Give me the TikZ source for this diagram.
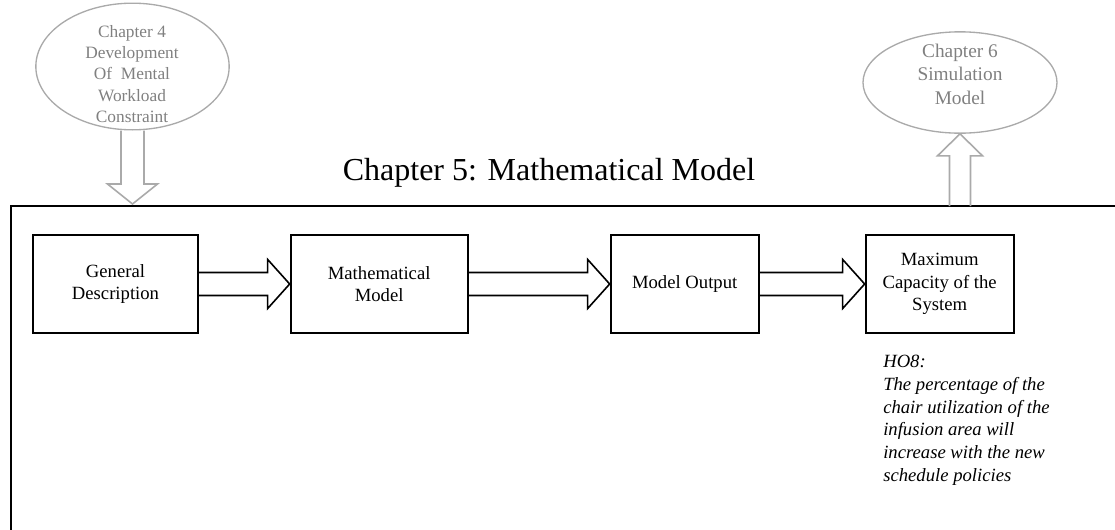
\documentclass[tikz,border=0pt]{standalone}
\usepackage{fontspec}
\setmainfont{Liberation Serif}
\usetikzlibrary{shapes.geometric, calc, positioning}

\definecolor{chapline}{RGB}{170,170,170}
\definecolor{chapink}{RGB}{128,128,128}

% hollow block arrow from box #2 to box #3 (left to right)
\newcommand{\fatarrow}[3]{%
  \draw[#1] ($(#2.east |- #3.west)+(0,-11.5)$) -- ($(#3.west)+(-22,-11.5)$)
    -- ($(#3.west)+(-22,-24.5)$) -- (#3.west) -- ($(#3.west)+(-22,24.5)$)
    -- ($(#3.west)+(-22,11.5)$) -- ($(#2.east |- #3.west)+(0,11.5)$);}

\begin{document}
\begin{tikzpicture}[
    x=0.75pt, y=-0.75pt,
    stage/.style={
        rectangle, draw=black, line width=1.5pt,
        minimum height=73.5pt, inner sep=2pt, align=center,
        font=\fontsize{14pt}{17pt}\selectfont
    },
    bubble/.style={ellipse, draw=chapline, line width=1pt},
    bubbletext/.style={text=chapink, align=center, inner sep=0pt},
    blockarrow/.style={draw=black, line width=1.2pt, line join=miter},
    grayarrow/.style={draw=chapline, line width=1.2pt, line join=miter}
]
  \useasboundingbox (0,0) rectangle (1115,529);
  \clip (0,0) rectangle (1115,529);

  % Chapter 5 frame (runs off the page)
  \draw[line width=1.2pt] (11,560) -- (11,206) -- (1130,206);
  \coordinate (frametop) at (0,206);
  \node[anchor=base, font=\fontsize{24pt}{28pt}\selectfont] (title) at (549,180)
    {Chapter 5: Mathematical Model};

  % Neighbouring chapters
  \node[bubble, minimum width=145pt, minimum height=95pt] (ch4) at (132.5,66.5) {};
  \node[bubbletext, font=\fontsize{13pt}{16pt}\selectfont] (ch4text) at (132,74)
    {Chapter 4\\Development\\Of~ Mental\\Workload\\Constraint};
  \node[bubble, minimum width=145.5pt, minimum height=76pt] (ch6) at (960,82.5) {};
  \node[bubbletext, font=\fontsize{14.5pt}{17.6pt}\selectfont] (ch6text) at (960,74)
    {Chapter 6\\Simulation\\Model};

  % Model steps
  \node[stage, minimum width=123.75pt] (gen) at (115.5,284) {General\\Description};
  \node[stage, minimum width=132.75pt, right=68pt of gen] (mat) {Mathematical\\Model};
  \node[stage, minimum width=111pt, right=105.75pt of mat] (out) {Model Output};
  \node[stage, minimum width=111pt, right=78.75pt of out] (cap) {Maximum\\Capacity of the\\System};

  \node[anchor=north west, inner sep=0pt, align=left,
        font=\fontsize{14pt}{17pt}\selectfont\itshape] (ho8) at (883,355)
    {HO8:\\The percentage of the\\chair utilization of the\\infusion area will\\increase with the new\\schedule policies};

  % Block arrows between steps
  \fatarrow{blockarrow}{gen}{mat}
  \fatarrow{blockarrow}{mat}{out}
  \fatarrow{blockarrow}{out}{cap}

  % In from chapter 4, out to chapter 6
  \draw[grayarrow] ($(ch4.south)+(-11.5,0)$) -- ($(ch4.south |- frametop)+(-11.5,-22)$)
    -- ($(ch4.south |- frametop)+(-25,-22)$) -- ($(ch4.south |- frametop)+(0,-2)$)
    -- ($(ch4.south |- frametop)+(25,-22)$) -- ($(ch4.south |- frametop)+(11.5,-22)$)
    -- ($(ch4.south)+(11.5,0)$);
  \draw[grayarrow] ($(ch6.south |- frametop)+(-10.5,0)$) -- ($(ch6.south)+(-10.5,22)$)
    -- ($(ch6.south)+(-22.5,22)$) -- (ch6.south) -- ($(ch6.south)+(22.5,22)$)
    -- ($(ch6.south)+(10.5,22)$) -- ($(ch6.south |- frametop)+(10.5,0)$);

\end{tikzpicture}
\end{document}
